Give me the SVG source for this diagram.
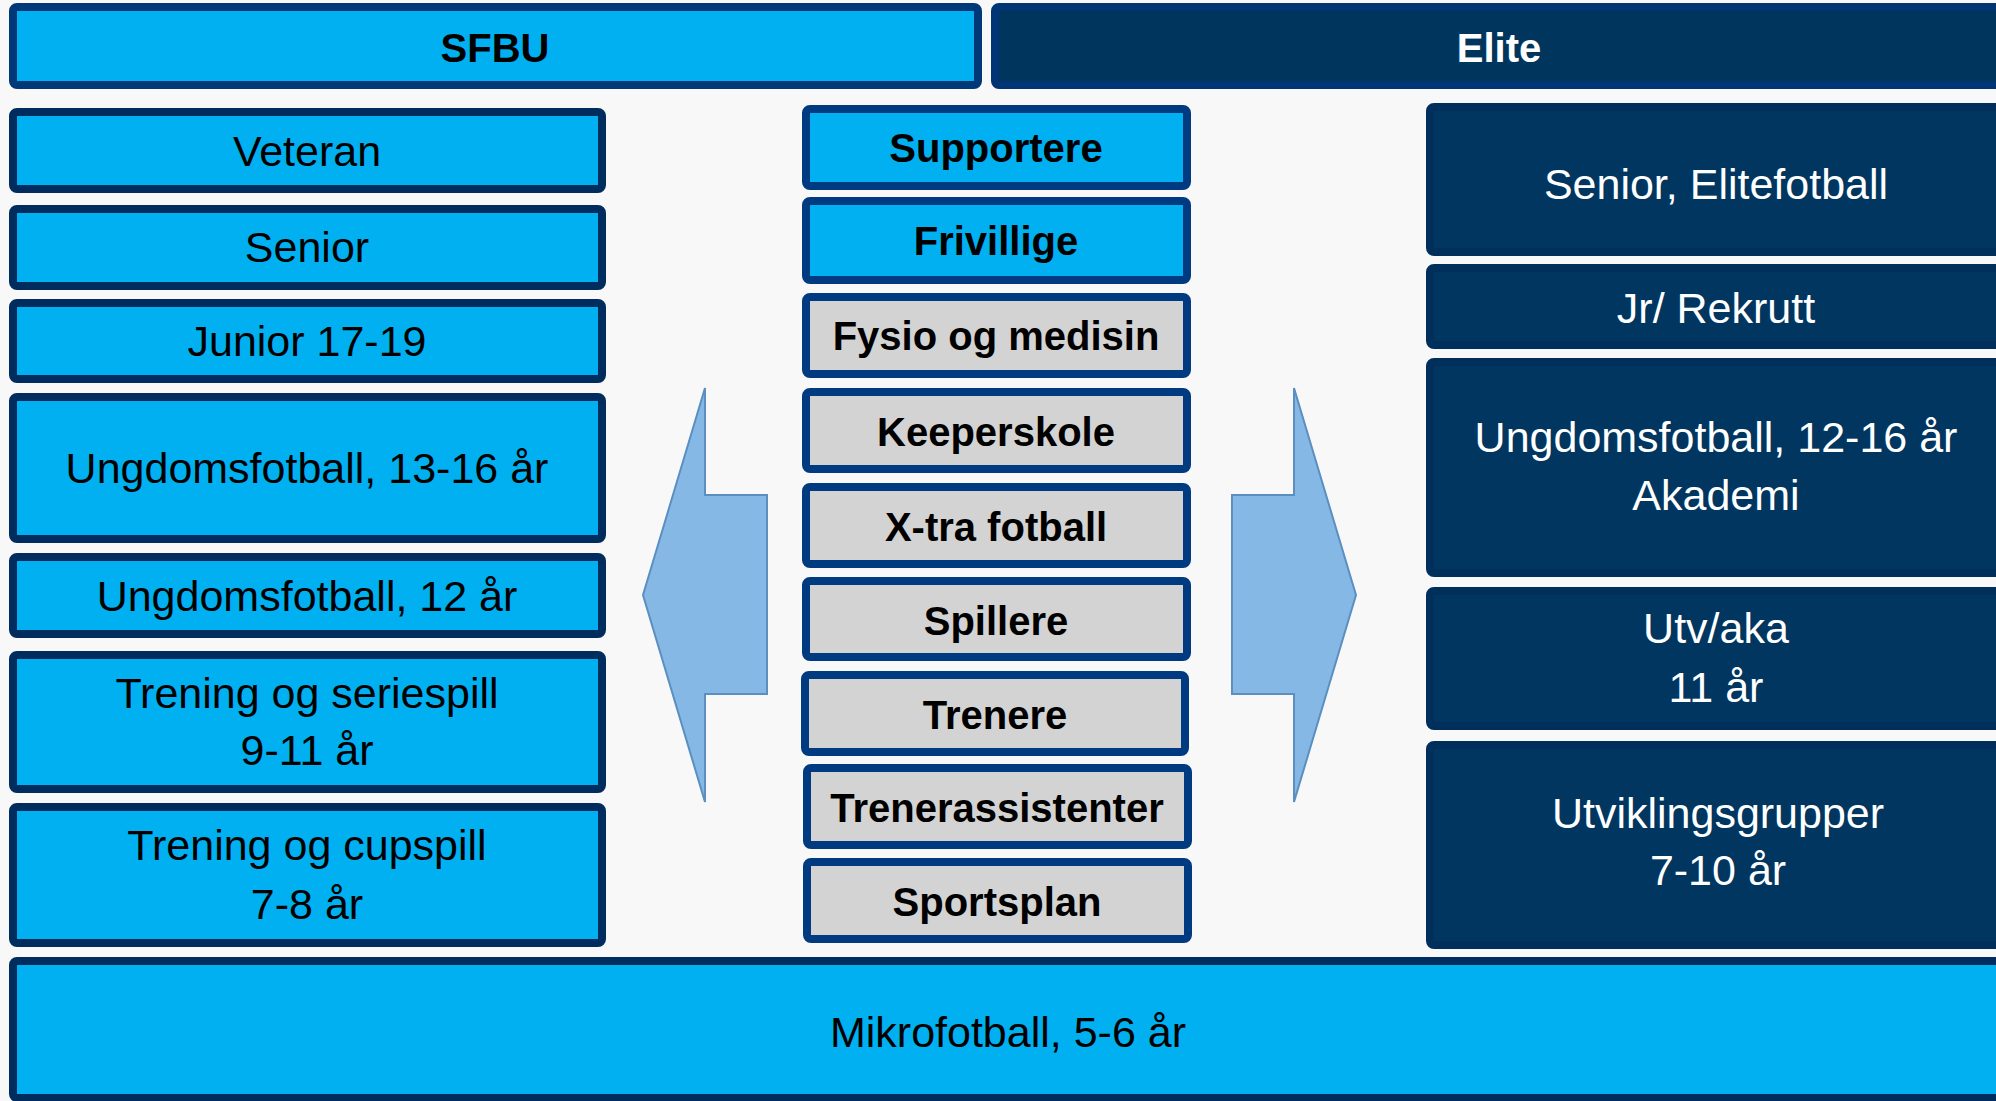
<svg xmlns="http://www.w3.org/2000/svg" width="1996" height="1101" viewBox="0 0 1996 1101">
<style>
.lb{fill:#00b0f0;stroke:#002c5e;stroke-width:8}
.hl{fill:#00b0f0;stroke:#003878;stroke-width:8}
.cb{fill:#00b0f0;stroke:#003a80;stroke-width:8}
.cg{fill:#d3d3d3;stroke:#003a80;stroke-width:8}
.rb{fill:#00365f;stroke:#002f5b;stroke-width:8}
.hd{fill:#00365e;stroke:#003575;stroke-width:8}
.t{font-family:"Liberation Sans",Arial,sans-serif;font-size:43px;fill:#000;text-anchor:middle}
.tw{font-family:"Liberation Sans",Arial,sans-serif;font-size:43px;fill:#fff;text-anchor:middle}
.tb{font-family:"Liberation Sans",Arial,sans-serif;font-size:40px;font-weight:bold;fill:#000;text-anchor:middle}
.tbw{font-family:"Liberation Sans",Arial,sans-serif;font-size:40px;font-weight:bold;fill:#fff;text-anchor:middle}
.ar{fill:#85b8e5;stroke:#5b8fc0;stroke-width:2}
</style>
<rect x="0" y="0" width="1996" height="1101" fill="#f8f8f8"/>

<g id="sfbu"><rect class="hl" x="13" y="7" width="965" height="78" rx="4"/><text class="tb" x="495" y="62">SFBU</text></g>
<g id="elite"><rect class="hd" x="995" y="7" width="1009" height="78" rx="4"/><text class="tbw" x="1499" y="62">Elite</text></g>

<g id="veteran"><rect class="lb" x="13" y="112" width="589" height="77" rx="4"/><text class="t" x="307" y="166">Veteran</text></g>
<g id="senior"><rect class="lb" x="13" y="209" width="589" height="77" rx="4"/><text class="t" x="307" y="262">Senior</text></g>
<g id="junior"><rect class="lb" x="13" y="303" width="589" height="76" rx="4"/><text class="t" x="307" y="356">Junior 17-19</text></g>
<g id="ungdom1316"><rect class="lb" x="13" y="397" width="589" height="142" rx="4"/><text class="t" x="307" y="483">Ungdomsfotball, 13-16 år</text></g>
<g id="ungdom12"><rect class="lb" x="13" y="557" width="589" height="77" rx="4"/><text class="t" x="307" y="611">Ungdomsfotball, 12 år</text></g>
<g id="seriespill"><rect class="lb" x="13" y="655" width="589" height="134" rx="4"/><text class="t" x="307" y="708">Trening og seriespill</text><text class="t" x="307" y="765">9-11 år</text></g>
<g id="cupspill"><rect class="lb" x="13" y="807" width="589" height="136" rx="4"/><text class="t" x="307" y="860">Trening og cupspill</text><text class="t" x="307" y="919">7-8 år</text></g>

<g id="supportere"><rect class="cb" x="806" y="109" width="381" height="77" rx="4"/><text class="tb" x="996" y="162">Supportere</text></g>
<g id="frivillige"><rect class="cb" x="806" y="201" width="381" height="79" rx="4"/><text class="tb" x="996" y="255">Frivillige</text></g>
<g id="fysio"><rect class="cg" x="806" y="297" width="381" height="77" rx="4"/><text class="tb" x="996" y="350">Fysio og medisin</text></g>
<g id="keeperskole"><rect class="cg" x="806" y="392" width="381" height="77" rx="4"/><text class="tb" x="996" y="446">Keeperskole</text></g>
<g id="xtra"><rect class="cg" x="806" y="487" width="381" height="77" rx="4"/><text class="tb" x="996" y="541">X-tra fotball</text></g>
<g id="spillere"><rect class="cg" x="806" y="581" width="381" height="76" rx="4"/><text class="tb" x="996" y="635">Spillere</text></g>
<g id="trenere"><rect class="cg" x="805" y="675" width="380" height="77" rx="4"/><text class="tb" x="995" y="729">Trenere</text></g>
<g id="trenerassistenter"><rect class="cg" x="807" y="768" width="381" height="77" rx="4"/><text class="tb" x="997" y="822">Trenerassistenter</text></g>
<g id="sportsplan"><rect class="cg" x="807" y="862" width="381" height="77" rx="4"/><text class="tb" x="997" y="916">Sportsplan</text></g>

<g id="elitefotball"><rect class="rb" x="1430" y="107" width="580" height="145" rx="4"/><text class="tw" x="1716" y="199">Senior, Elitefotball</text></g>
<g id="rekrutt"><rect class="rb" x="1430" y="268" width="580" height="77" rx="4"/><text class="tw" x="1716" y="323">Jr/ Rekrutt</text></g>
<g id="akademi"><rect class="rb" x="1430" y="362" width="580" height="211" rx="4"/><text class="tw" x="1716" y="452">Ungdomsfotball, 12-16 år</text><text class="tw" x="1716" y="510">Akademi</text></g>
<g id="utvaka"><rect class="rb" x="1430" y="591" width="580" height="135" rx="4"/><text class="tw" x="1716" y="643">Utv/aka</text><text class="tw" x="1716" y="702">11 år</text></g>
<g id="utviklingsgrupper"><rect class="rb" x="1430" y="745" width="580" height="200" rx="4"/><text class="tw" x="1718" y="828">Utviklingsgrupper</text><text class="tw" x="1718" y="885">7-10 år</text></g>

<g id="mikrofotball"><rect class="lb" x="13" y="961" width="1999" height="137" rx="4"/><text class="t" x="1008" y="1047">Mikrofotball, 5-6 år</text></g>

<g id="connectors">
<polygon class="ar" points="705,388 705,495 767,495 767,694 705,694 705,802 643,595"/>
<polygon class="ar" points="1232,495 1294,495 1294,388 1356,595 1294,802 1294,694 1232,694"/>
</g>
</svg>
